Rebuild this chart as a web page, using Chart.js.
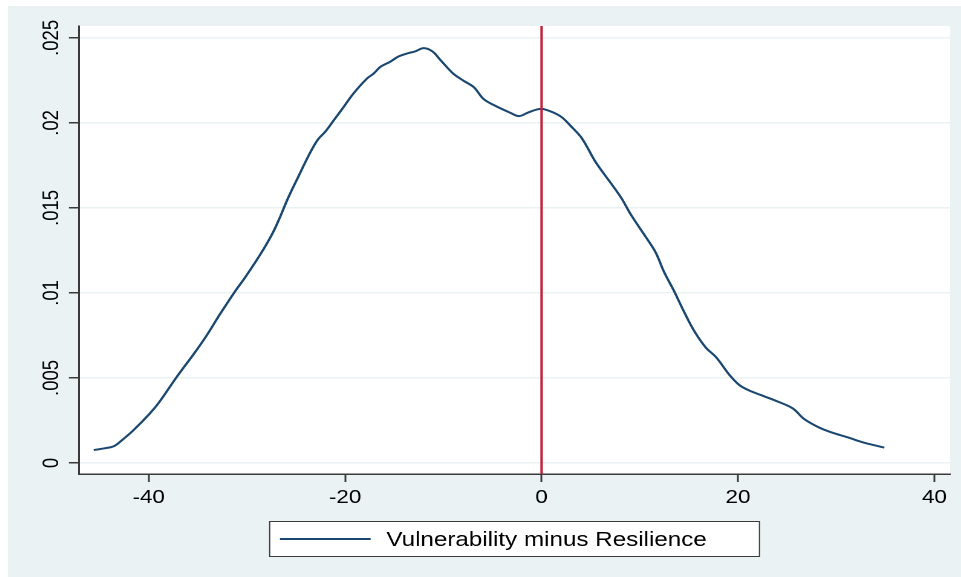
<!DOCTYPE html>
<html>
<head>
<meta charset="utf-8">
<title>Kernel density: Vulnerability minus Resilience</title>
<script src="https://cdn.jsdelivr.net/npm/chart.js@4/dist/chart.umd.min.js"></script>
<style>
  html, body { margin: 0; padding: 0; background: #ffffff; }
  #wrap { position: absolute; left: 8px; top: 6px; width: 953px; height: 571px; }
  #c { display: block; width: 953px; height: 571px; }
</style>
</head>
<body>
<div id="wrap">
  <canvas id="c" width="788" height="571" style="width:953px;height:571px;"></canvas>
</div>
<script>
// Kernel density estimate of (Vulnerability - Resilience)
const densityX = [
  -45.6, -44.5, -43.5, -42.7, -41.6, -39.9, -38.9, -37.1, -35.3, -34.1,
  -32.8, -31.2, -30.2, -28.6, -27.4, -26.6, -25.8, -24.8, -23.7, -22.8,
  -22.0, -21.1, -20.2, -19.2, -17.8, -17.1, -16.4, -15.4, -14.6, -13.6,
  -12.9, -12.0, -11.1, -10.3, -9.0, -8.0, -6.9, -5.9, -4.7, -3.2,
  -2.3, -1.4, -0.4, 0.3, 1.9, 3.0, 4.1, 5.5, 7.0, 8.1,
  9.1, 10.6, 11.6, 12.5, 13.5, 14.5, 15.5, 16.7, 17.8, 19.1,
  20.1, 21.0, 22.3, 24.1, 25.6, 26.7, 28.2, 29.5, 31.2, 32.8,
  34.9
];
const densityY = [
  0.00076, 0.00086, 0.0010, 0.00135, 0.0019, 0.0029, 0.0036, 0.0051, 0.0065, 0.0075,
  0.0087, 0.0101, 0.0109, 0.0123, 0.0135, 0.0145, 0.0156, 0.0168, 0.0181, 0.0190,
  0.0195, 0.0202, 0.0209, 0.0217, 0.0226, 0.0229, 0.0233, 0.0236, 0.0239, 0.0241,
  0.0242, 0.0244, 0.0242, 0.0237, 0.0229, 0.0225, 0.0221, 0.0214, 0.0210, 0.0206,
  0.0204, 0.0206, 0.0208, 0.0208, 0.0204, 0.0198, 0.0191, 0.0177, 0.0165, 0.0156,
  0.0146, 0.0133, 0.0124, 0.0112, 0.0101, 0.0089, 0.0078, 0.0068, 0.0062, 0.0052,
  0.0046, 0.0043, 0.0040, 0.0036, 0.0032, 0.0026, 0.0021, 0.0018, 0.0015, 0.0012,
  0.0009
];
const seriesLabel = 'Vulnerability minus Resilience';

// Reference line at zero difference
const refLineX = 0;

// Axis ranges and ticks
const xRange = [-47.1, 41.6];
const yRange = [-0.00065, 0.0257];
const xTickValues = [-40, -20, 0, 20, 40];
const xTickLabels = ['-40', '-20', '0', '20', '40'];
const yTickValues = [0, 0.005, 0.01, 0.015, 0.02, 0.025];
const yTickLabels = ['0', '.005', '.01', '.015', '.02', '.025'];

const FONT = "'Liberation Sans', Arial, Helvetica, sans-serif";
const BG = '#EAF2F3';
const NAVY = '#1A476F';
const RED = '#C41E3A';
const AXIS = '#3a3a3a';

const curvePoints = densityX.map((x, i) => ({ x: x, y: densityY[i] }));
const refPoints = [{ x: refLineX, y: yRange[0] }, { x: refLineX, y: yRange[1] }];

// Outer graph region and white plot region
const backgroundPlugin = {
  id: 'panelBackground',
  beforeDraw(chart) {
    const { ctx, chartArea: a } = chart;
    ctx.save();
    ctx.fillStyle = BG;
    ctx.fillRect(0, 0, chart.width, chart.height);
    ctx.fillStyle = '#ffffff';
    ctx.fillRect(a.left, a.top, a.right - a.left, a.bottom - a.top);
    ctx.restore();
  }
};

// Boxed legend centred under the plot region
const boxedLegendPlugin = {
  id: 'boxedLegend',
  afterDraw(chart) {
    const { ctx, chartArea: a } = chart;
    const ds = chart.data.datasets.find(d => d.showInLegend);
    const cx = (a.left + a.right) / 2;
    const bw = 406, bh = 36;
    const bx = cx - bw / 2, by = 515;
    ctx.save();
    ctx.fillStyle = '#ffffff';
    ctx.fillRect(bx, by, bw, bh);
    ctx.strokeStyle = AXIS;
    ctx.lineWidth = 1;
    ctx.strokeRect(bx + 0.5, by + 0.5, bw - 1, bh - 1);
    ctx.strokeStyle = ds.borderColor;
    ctx.lineWidth = ds.borderWidth;
    ctx.beginPath();
    ctx.moveTo(bx + 9, by + 18);
    ctx.lineTo(bx + 84, by + 18);
    ctx.stroke();
    ctx.fillStyle = '#000000';
    ctx.font = '20px ' + FONT;
    ctx.textBaseline = 'alphabetic';
    ctx.textAlign = 'left';
    ctx.fillText(ds.label, bx + 97, by + 25);
    ctx.restore();
  }
};

new Chart(document.getElementById('c'), {
  type: 'line',
  data: {
    datasets: [
      {
        label: 'x = 0',
        data: refPoints,
        borderColor: RED,
        borderWidth: 2,
        pointRadius: 0,
        tension: 0,
        order: 0
      },
      {
        label: seriesLabel,
        showInLegend: true,
        data: curvePoints,
        borderColor: NAVY,
        borderWidth: 2,
        pointRadius: 0,
        tension: 0.35,
        fill: false,
        order: 1
      }
    ]
  },
  options: {
    responsive: false,
    devicePixelRatio: 2,
    animation: false,
    events: [],
    layout: { padding: { top: 20, right: 9, bottom: 63, left: 0 } },
    plugins: {
      legend: { display: false },
      tooltip: { enabled: false },
      title: { display: false }
    },
    scales: {
      x: {
        type: 'linear',
        min: xRange[0],
        max: xRange[1],
        afterBuildTicks(scale) { scale.ticks = xTickValues.map(v => ({ value: v })); },
        afterFit(scale) { scale.height = 40; },
        ticks: {
          autoSkip: false,
          maxRotation: 0,
          padding: 5,
          color: '#000000',
          font: { family: FONT, size: 18.5 },
          callback(value) {
            const i = xTickValues.indexOf(value);
            return i >= 0 ? xTickLabels[i] : '';
          }
        },
        grid: {
          drawOnChartArea: false,
          drawTicks: true,
          tickLength: 8,
          tickColor: AXIS,
          tickWidth: 1.5
        },
        border: { display: true, color: AXIS, width: 1.5 }
      },
      y: {
        type: 'linear',
        min: yRange[0],
        max: yRange[1],
        afterBuildTicks(scale) { scale.ticks = yTickValues.map(v => ({ value: v })); },
        afterFit(scale) { scale.width = 58.7; },
        ticks: {
          autoSkip: false,
          minRotation: 90,
          maxRotation: 90,
          crossAlign: 'center',
          padding: -4,
          color: '#000000',
          font: { family: FONT, size: 18.5 },
          callback(value) {
            const i = yTickValues.indexOf(value);
            return i >= 0 ? yTickLabels[i] : '';
          }
        },
        grid: {
          drawOnChartArea: true,
          color: BG,
          lineWidth: 1.5,
          drawTicks: true,
          tickLength: 8.3,
          tickColor: AXIS,
          tickWidth: 1.5
        },
        border: { display: true, color: AXIS, width: 1.5 }
      }
    }
  },
  plugins: [backgroundPlugin, boxedLegendPlugin]
});
</script>
</body>
</html>
